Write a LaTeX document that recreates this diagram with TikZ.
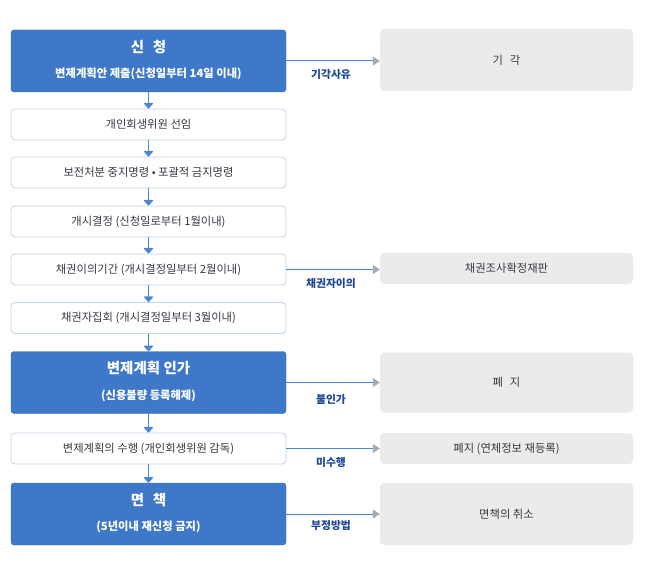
\documentclass[tikz,border=0pt]{standalone}
\usepackage{fontspec}
\setmainfont{Noto Sans CJK KR}
\usetikzlibrary{arrows.meta}

\definecolor{stepblue}{RGB}{63,120,200}
\definecolor{stepedge}{RGB}{52,104,184}
\definecolor{lineblue}{RGB}{74,134,214}
\definecolor{plainedge}{RGB}{196,210,232}
\definecolor{endgray}{RGB}{235,235,235}
\definecolor{tipgray}{RGB}{170,170,170}
\definecolor{labelblue}{RGB}{30,72,150}
\definecolor{plaintext}{RGB}{55,58,66}

\begin{document}
\begin{tikzpicture}[x=1pt,y=-1pt,
    mainbox/.style={draw=stepedge,fill=stepblue,rounded corners=3pt,
      minimum width=275pt,minimum height=62pt,inner sep=0pt},
    plainbox/.style={draw=plainedge,fill=white,rounded corners=4pt,line width=0.8pt,
      minimum width=275pt,minimum height=31pt,inner sep=0pt,
      text=plaintext,font=\fontsize{11.3}{13}\selectfont},
    endbox/.style={fill=endgray,rounded corners=4pt,
      minimum width=253pt,inner sep=0pt,
      text=plaintext,font=\fontsize{11.3}{13}\selectfont},
    maintitle/.style={text=white,font=\bfseries\fontsize{14.5}{16}\selectfont},
    mainsub/.style={text=white,font=\bfseries\fontsize{11.3}{13}\selectfont},
    reason/.style={text=labelblue,font=\bfseries\fontsize{10.8}{12}\selectfont},
    down/.style={draw=lineblue,line width=1.2pt,
      -{Triangle[width=10pt,length=6pt,round]}},
    side/.style={draw=lineblue,line width=1pt,
      -{Triangle[width=9pt,length=7pt,color=tipgray,fill=tipgray]}}]

    % Parameters
    \def\lx{148.5}
    \def\rx{506.5}
    \def\rsx{331}

    \useasboundingbox (0,0) rectangle (648,564);

    % Main column
    \node[mainbox]  (apply)   at (\lx,61)    {};
    \node[maintitle] at ([yshift=14pt]apply.center) {신\hspace{0.6em}청};
    \node[mainsub]   at ([yshift=-13pt]apply.center) {변제계획안 제출(신청일부터 14일 이내)};

    \node[plainbox] (member)  at (\lx,124.5)  {개인회생위원 선임};
    \node[plainbox] (order)   at (\lx,172.5)  {보전처분 중지명령 \textbullet\ 포괄적 금지명령};
    \node[plainbox] (open)    at (\lx,221.5)  {개시결정 (신청일로부터 1월이내)};
    \node[plainbox] (objterm) at (\lx,269.5)  {채권이의기간 (개시결정일부터 2월이내)};
    \node[plainbox] (meeting) at (\lx,318)    {채권자집회 (개시결정일부터 3월이내)};

    \node[mainbox]  (approve) at (\lx,382.5)  {};
    \node[maintitle] at ([yshift=14pt]approve.center) {변제계획 인가};
    \node[mainsub]   at ([yshift=-13pt]approve.center) {(신용불량 등록해제)};

    \node[plainbox] (perform) at (\lx,448.5)  {변제계획의 수행 (개인회생위원 감독)};

    \node[mainbox]  (exempt)  at (\lx,514)    {};
    \node[maintitle] at ([yshift=14pt]exempt.center) {면\hspace{0.6em}책};
    \node[mainsub]   at ([yshift=-13pt]exempt.center) {(5년이내 재신청 금지)};

    % Outcome column
    \node[endbox,minimum height=62pt] (dismiss) at (\rx,60)    {기\hspace{0.6em}각};
    \node[endbox,minimum height=31pt] (trial)   at (\rx,268.5) {채권조사확정재판};
    \node[endbox,minimum height=60pt] (abolish) at (\rx,382.5) {폐\hspace{0.6em}지};
    \node[endbox,minimum height=31pt] (reabol)  at (\rx,448.5) {폐지 (연체정보 재등록)};
    \node[endbox,minimum height=62pt] (revoke)  at (\rx,514)   {면책의 취소};

    % Flow
    \draw[down] (apply)   -- (member);
    \draw[down] (member)  -- (order);
    \draw[down] (order)   -- (open);
    \draw[down] (open)    -- (objterm);
    \draw[down] (objterm) -- (meeting);
    \draw[down] (meeting) -- (approve);
    \draw[down] (approve) -- (perform);
    \draw[down] (perform) -- (exempt);

    % Side exits
    \draw[side] (apply.east)   -- (apply.east -| dismiss.west);
    \draw[side] (objterm.east) -- (objterm.east -| trial.west);
    \draw[side] (approve.east) -- (approve.east -| abolish.west);
    \draw[side] (perform.east) -- (perform.east -| reabol.west);
    \draw[side] (exempt.east)  -- (exempt.east -| revoke.west);

    % Reasons
    \node[reason] (r1) at (\rsx,74)  {기각사유};
    \node[reason] (r2) at (\rsx,283) {채권자이의};
    \node[reason] (r3) at (\rsx,399) {불인가};
    \node[reason] (r4) at (\rsx,462) {미수행};
    \node[reason] (r5) at (\rsx,525) {부정방법};

\end{tikzpicture}
\end{document}
